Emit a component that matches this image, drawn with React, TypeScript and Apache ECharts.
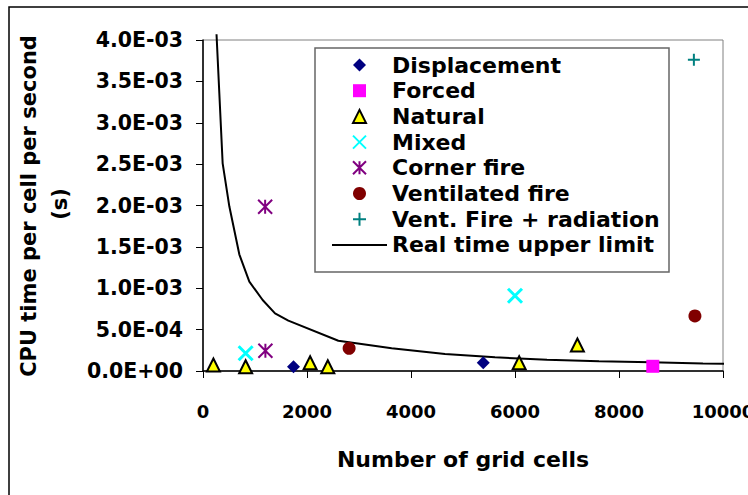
import React, { useEffect, useRef } from 'react';
import * as echarts from 'echarts';

const xTickLabels = ['0', '2000', '4000', '6000', '8000', '10000'];
const yTickLabels = ['0.0E+00', '5.0E-04', '1.0E-03', '1.5E-03', '2.0E-03', '2.5E-03', '3.0E-03', '3.5E-03', '4.0E-03'];

const displacement = [[1740, 0.000052], [5390, 0.0001]];
const forced = [[8650, 0.000057]];
const natural = [[200, 0.000073], [820, 0.000052], [2060, 0.0001], [2400, 0.000052], [6080, 0.0001], [7200, 0.000314]];
const mixed = [[820, 0.000214], [6000, 0.00091]];
const cornerFire = [[1200, 0.000245], [1195, 0.001985]];
const ventilatedFire = [[2810, 0.000274], [9460, 0.000665]];
const ventFireRadiation = [[9440, 0.00376]];

const limitX = [260, 378, 506, 698, 891, 1147, 1385, 1641, 2603, 3628, 4654, 5615, 6615, 7615, 8615, 9615, 10170];
const limitY = [0.00407, 0.00251, 0.00199, 0.00141, 0.00108, 0.000858, 0.000697, 0.000608, 0.000366, 0.000274, 0.000205, 0.000165, 0.000137, 0.000118, 0.000105, 0.000092, 0.000088];

const FONT = 'DejaVu Sans';
const DIAMOND = 'path://M5,0L10,5L5,10L0,5Z';
const SQUARE = 'path://M0,0L10,0L10,10L0,10Z';
const TRIANGLE = 'path://M5,0L10,10L0,10Z';
const XMARK = 'path://M0,0L10,10M10,0L0,10';
const STAR = 'path://M0,0L10,10M10,0L0,10M5,0L5,10';
const PLUS = 'path://M5,0L5,10M0,5L10,5';

export default function App() {
  const ref = useRef<HTMLDivElement>(null);
  useEffect(() => {
    if (!ref.current) return;
    const chart = echarts.init(ref.current, undefined, { renderer: 'svg' });
    const limitData = limitX.map((x, i) => [x, limitY[i]]);
    const option: any = {
      animation: false,
      backgroundColor: '#fff',
      textStyle: { fontFamily: FONT, fontWeight: 'bold', color: '#000' },
      grid: {
        left: 203, top: 40, width: 520, height: 331,
        show: true, borderColor: '#808080', borderWidth: 1,
        containLabel: false, outerBoundsMode: 'none',
      },
      xAxis: {
        type: 'value', min: 0, max: 10000, interval: 2000,
        name: 'Number of grid cells', nameLocation: 'middle', nameGap: 77,
        nameTextStyle: { fontFamily: FONT, fontWeight: 'bold', fontSize: 22, color: '#000' },
        axisLine: { show: true, onZero: false, lineStyle: { color: '#000', width: 1.5 } },
        axisTick: { show: true, inside: false, length: 7, lineStyle: { color: '#000', width: 1 } },
        splitLine: { show: false },
        axisLabel: {
          margin: 31, fontFamily: FONT, fontWeight: 'bold', fontSize: 18, color: '#000',
          formatter: (_v: number, i: number) => xTickLabels[i],
        },
      },
      yAxis: {
        type: 'value', min: 0, max: 0.004, interval: 0.0005,
        axisLine: { show: true, onZero: false, lineStyle: { color: '#000', width: 1.5 } },
        axisTick: { show: true, inside: false, length: 7, lineStyle: { color: '#000', width: 1 } },
        splitLine: { show: false },
        axisLabel: {
          margin: 20, fontFamily: FONT, fontWeight: 'bold', fontSize: 20.5, color: '#000',
          formatter: (_v: number, i: number) => yTickLabels[i],
        },
      },
      legend: {
        orient: 'vertical', left: 331, top: 54, padding: 0,
        itemWidth: 55, itemHeight: 13, itemGap: 3.7,
        selectedMode: false, symbolKeepAspect: true,
        textStyle: { fontFamily: FONT, fontWeight: 'bold', fontSize: 22, lineHeight: 22, color: '#000' },
        data: [
          'Displacement', 'Forced', 'Natural', 'Mixed', 'Corner fire', 'Ventilated fire', 'Vent. Fire + radiation',
          { name: 'Real time upper limit', itemStyle: { opacity: 0 } },
        ],
      },
      graphic: [
        { type: 'rect', z: 0, shape: { x: 9, y: 7, width: 800, height: 600 }, style: { fill: 'none', stroke: '#000', lineWidth: 1.5 } },
        { type: 'rect', z: 3, shape: { x: 315, y: 48, width: 354, height: 224 }, style: { fill: '#fff', stroke: '#666', lineWidth: 1.5 } },
        { type: 'text', x: 29, y: 206, rotation: Math.PI / 2, style: { text: 'CPU time per cell per second', fontFamily: FONT, fontWeight: 'bold', fontSize: 21, fill: '#000', align: 'center', verticalAlign: 'middle' } },
        { type: 'text', x: 60, y: 204, rotation: Math.PI / 2, style: { text: '(s)', fontFamily: FONT, fontWeight: 'bold', fontSize: 21, fill: '#000', align: 'center', verticalAlign: 'middle' } },
      ],
      series: [
        {
          name: 'Real time upper limit', type: 'line', data: limitData, symbol: 'none', clip: false, z: 1,
          lineStyle: { color: '#000', width: 2 }, itemStyle: { color: '#000', opacity: 0 },
        },
        {
          name: 'Displacement', type: 'scatter', data: displacement, symbol: DIAMOND, symbolSize: 13, symbolKeepAspect: true,
          itemStyle: { color: '#000080', opacity: 1 },
        },
        {
          name: 'Forced', type: 'scatter', data: forced, symbol: SQUARE, symbolSize: 13, symbolKeepAspect: true,
          itemStyle: { color: '#FF00FF', opacity: 1 },
        },
        {
          name: 'Natural', type: 'scatter', data: natural, symbol: TRIANGLE, symbolSize: 13, symbolKeepAspect: true,
          itemStyle: { color: '#FFFF00', borderColor: '#000', borderWidth: 2, opacity: 1 },
        },
        {
          name: 'Mixed', type: 'scatter', data: mixed, symbol: XMARK, symbolSize: 14, symbolKeepAspect: true,
          itemStyle: { color: '#00FFFF', borderColor: '#00FFFF', borderWidth: 3, opacity: 1 },
        },
        {
          name: 'Corner fire', type: 'scatter', data: cornerFire, symbol: STAR, symbolSize: 14, symbolKeepAspect: true,
          itemStyle: { color: '#800080', borderColor: '#800080', borderWidth: 2, opacity: 1 },
        },
        {
          name: 'Ventilated fire', type: 'scatter', data: ventilatedFire, symbol: 'circle', symbolSize: 13, symbolKeepAspect: true,
          itemStyle: { color: '#800000', opacity: 1 },
        },
        {
          name: 'Vent. Fire + radiation', type: 'scatter', data: ventFireRadiation, symbol: PLUS, symbolSize: 12, symbolKeepAspect: true,
          itemStyle: { color: '#008080', borderColor: '#008080', borderWidth: 2, opacity: 1 },
        },
      ],
    };
    chart.setOption(option);
    return () => chart.dispose();
  }, []);
  return (
    <div
      ref={ref}
      style={{ position: 'fixed', left: 0, top: 0, width: 748, height: 495, background: '#fff' }}
    />
  );
}
